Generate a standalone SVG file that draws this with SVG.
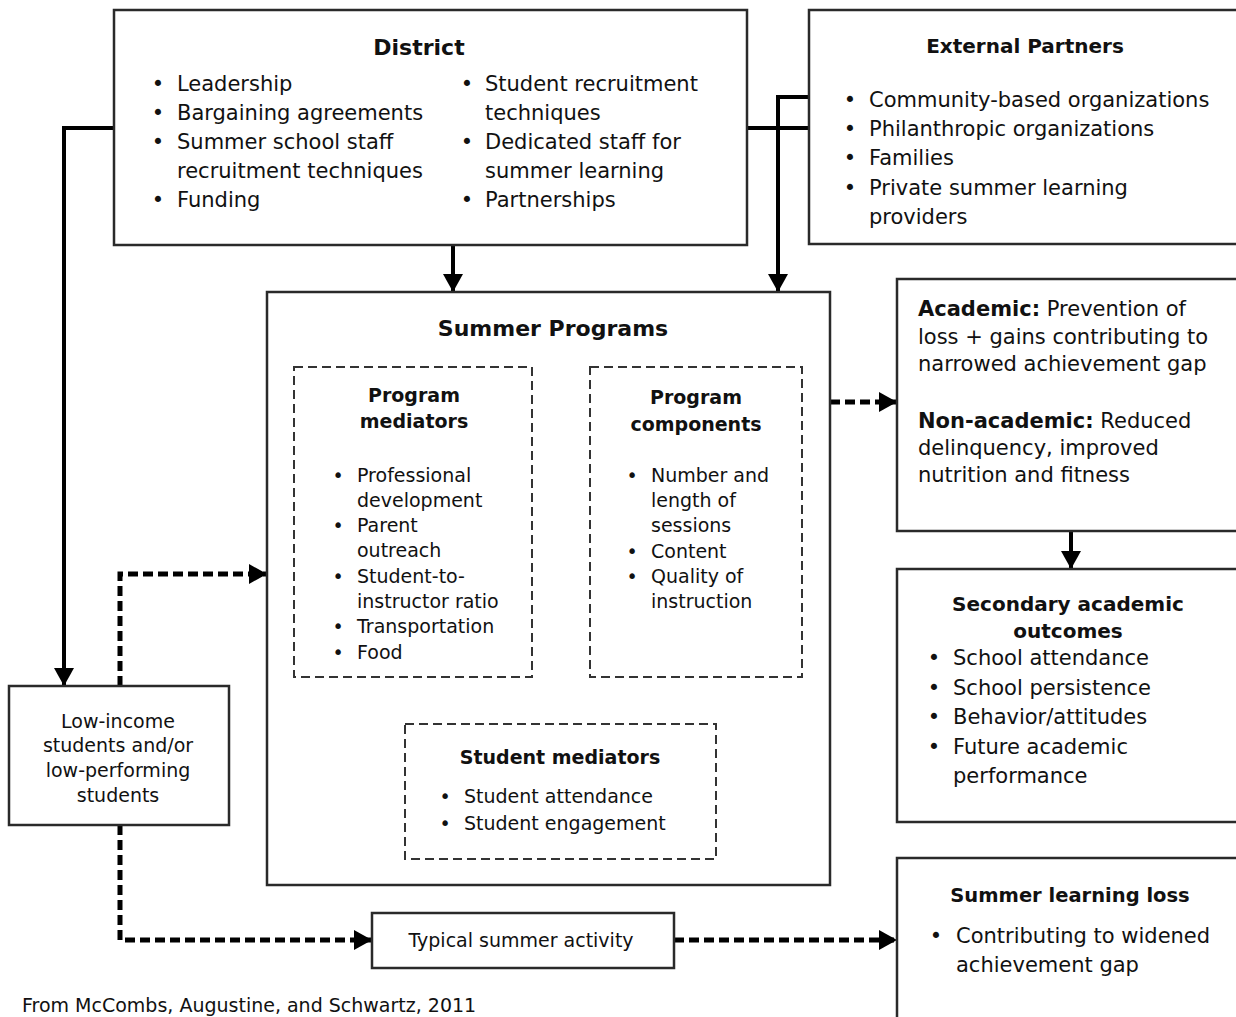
<svg xmlns="http://www.w3.org/2000/svg" width="1236" height="1017" viewBox="0 0 1236 1017">
<style>
.box{fill:#fff;stroke:#2a2a2a;stroke-width:2.5}
.dbox{fill:none;stroke:#333;stroke-width:2;stroke-dasharray:9 5}
.c{fill:none;stroke:#000;stroke-width:4}
.d{fill:none;stroke:#000;stroke-width:5;stroke-dasharray:10 5}
text{font-family:"DejaVu Sans","Liberation Sans",sans-serif;fill:#111}
.b{font-weight:bold}
.t21{font-size:21px}
.t19{font-size:19px}
.m{text-anchor:middle}
</style>
<defs>
<marker id="ah" markerUnits="userSpaceOnUse" viewBox="0 0 18 20" refX="17" refY="10" markerWidth="18" markerHeight="20" orient="auto">
<path d="M0,0 L18,10 L0,20 z" fill="#000"/>
</marker>
</defs>
<rect width="1236" height="1017" fill="#fff"/>

<g id="connectors">
<path class="c" d="M453,245 V291" marker-end="url(#ah)"/>
<path class="c" d="M114,128 H64 V685" marker-end="url(#ah)"/>
<path class="c" d="M747,128 H809"/>
<path class="c" d="M809,97 H778 V291" marker-end="url(#ah)"/>
<path class="d" d="M830,402 H896" marker-end="url(#ah)"/>
<path class="c" d="M1071,531 V568" marker-end="url(#ah)"/>
<path class="d" d="M120,686 V574 H266" marker-end="url(#ah)"/>
<path class="d" d="M120,825 V940 H371" marker-end="url(#ah)"/>
<path class="d" d="M674,940 H896" marker-end="url(#ah)"/>
<path class="c" d="M532,521 H586" marker-end="url(#ah)"/>
<path class="c" d="M477,677 V723" marker-end="url(#ah)"/>
<path class="c" d="M646,677 V723" marker-end="url(#ah)"/>
</g>

<g id="district">
<rect class="box" x="114" y="10" width="633" height="235"/>
<text class="b m" x="419" y="55" style="font-size:22px">District</text>
<g class="t21">
<text x="158" y="91" class="m">•</text><text x="177" y="91">Leadership</text>
<text x="158" y="120" class="m">•</text><text x="177" y="120">Bargaining agreements</text>
<text x="158" y="149" class="m">•</text><text x="177" y="149">Summer school staff</text>
<text x="177" y="178">recruitment techniques</text>
<text x="158" y="207" class="m">•</text><text x="177" y="207">Funding</text>
<text x="467" y="91" class="m">•</text><text x="485" y="91">Student recruitment</text>
<text x="485" y="120">techniques</text>
<text x="467" y="149" class="m">•</text><text x="485" y="149">Dedicated staff for</text>
<text x="485" y="178">summer learning</text>
<text x="467" y="207" class="m">•</text><text x="485" y="207">Partnerships</text>
</g>
</g>

<g id="external-partners">
<rect class="box" x="809" y="10" width="440" height="234"/>
<text class="b m" x="1025" y="53" style="font-size:20px">External Partners</text>
<g class="t21">
<text x="850" y="107" class="m">•</text><text x="869" y="107">Community-based organizations</text>
<text x="850" y="136" class="m">•</text><text x="869" y="136">Philanthropic organizations</text>
<text x="850" y="165" class="m">•</text><text x="869" y="165">Families</text>
<text x="850" y="195" class="m">•</text><text x="869" y="195">Private summer learning</text>
<text x="869" y="224">providers</text>
</g>
</g>

<g id="summer-programs">
<rect class="box" x="267" y="292" width="563" height="593"/>
<text class="b m" x="553" y="336" style="font-size:22px">Summer Programs</text>
</g>

<g id="program-mediators">
<rect class="dbox" x="294" y="367" width="238" height="310"/>
<text class="b m" x="414" y="402" style="font-size:19px">Program</text>
<text class="b m" x="414" y="428" style="font-size:19px">mediators</text>
<g class="t19">
<text x="338" y="482" class="m">•</text><text x="357" y="482">Professional</text>
<text x="357" y="507">development</text>
<text x="338" y="532" class="m">•</text><text x="357" y="532">Parent</text>
<text x="357" y="557">outreach</text>
<text x="338" y="583" class="m">•</text><text x="357" y="583">Student-to-</text>
<text x="357" y="608">instructor ratio</text>
<text x="338" y="633" class="m">•</text><text x="357" y="633">Transportation</text>
<text x="338" y="659" class="m">•</text><text x="357" y="659">Food</text>
</g>
</g>

<g id="program-components">
<rect class="dbox" x="590" y="367" width="212" height="310"/>
<text class="b m" x="696" y="404" style="font-size:19px">Program</text>
<text class="b m" x="696" y="431" style="font-size:19px">components</text>
<g class="t19">
<text x="632" y="482" class="m">•</text><text x="651" y="482">Number and</text>
<text x="651" y="507">length of</text>
<text x="651" y="532">sessions</text>
<text x="632" y="558" class="m">•</text><text x="651" y="558">Content</text>
<text x="632" y="583" class="m">•</text><text x="651" y="583">Quality of</text>
<text x="651" y="608">instruction</text>
</g>
</g>

<g id="student-mediators">
<rect class="dbox" x="405" y="724" width="311" height="135"/>
<text class="b m" x="560" y="764" style="font-size:19px">Student mediators</text>
<g class="t19">
<text x="445" y="803" class="m">•</text><text x="464" y="803">Student attendance</text>
<text x="445" y="830" class="m">•</text><text x="464" y="830">Student engagement</text>
</g>
</g>

<g id="outcomes">
<rect class="box" x="897" y="279" width="350" height="252"/>
<g class="t21">
<text x="918" y="316"><tspan class="b">Academic:</tspan> Prevention of</text>
<text x="918" y="344">loss + gains contributing to</text>
<text x="918" y="371">narrowed achievement gap</text>
<text x="918" y="428"><tspan class="b">Non-academic:</tspan> Reduced</text>
<text x="918" y="455">delinquency, improved</text>
<text x="918" y="482">nutrition and fitness</text>
</g>
</g>

<g id="secondary-outcomes">
<rect class="box" x="897" y="569" width="350" height="253"/>
<text class="b m" x="1068" y="611" style="font-size:20px">Secondary academic</text>
<text class="b m" x="1068" y="638" style="font-size:20px">outcomes</text>
<g class="t21">
<text x="934" y="665" class="m">•</text><text x="953" y="665">School attendance</text>
<text x="934" y="695" class="m">•</text><text x="953" y="695">School persistence</text>
<text x="934" y="724" class="m">•</text><text x="953" y="724">Behavior/attitudes</text>
<text x="934" y="754" class="m">•</text><text x="953" y="754">Future academic</text>
<text x="953" y="783">performance</text>
</g>
</g>

<g id="summer-learning-loss">
<rect class="box" x="897" y="858" width="350" height="200"/>
<text class="b m" x="1070" y="902" style="font-size:19.5px">Summer learning loss</text>
<g class="t21">
<text x="936" y="943" class="m">•</text><text x="956" y="943">Contributing to widened</text>
<text x="956" y="972">achievement gap</text>
</g>
</g>

<g id="low-income-students">
<rect class="box" x="9" y="686" width="220" height="139"/>
<g class="t19 m">
<text x="118" y="728">Low-income</text>
<text x="118" y="752">students and/or</text>
<text x="118" y="777">low-performing</text>
<text x="118" y="802">students</text>
</g>
</g>

<g id="typical-summer-activity">
<rect class="box" x="372" y="913" width="302" height="55"/>
<text class="t19 m" x="521" y="947">Typical summer activity</text>
</g>

<text class="t19" x="22" y="1012">From McCombs, Augustine, and Schwartz, 2011</text>
</svg>
